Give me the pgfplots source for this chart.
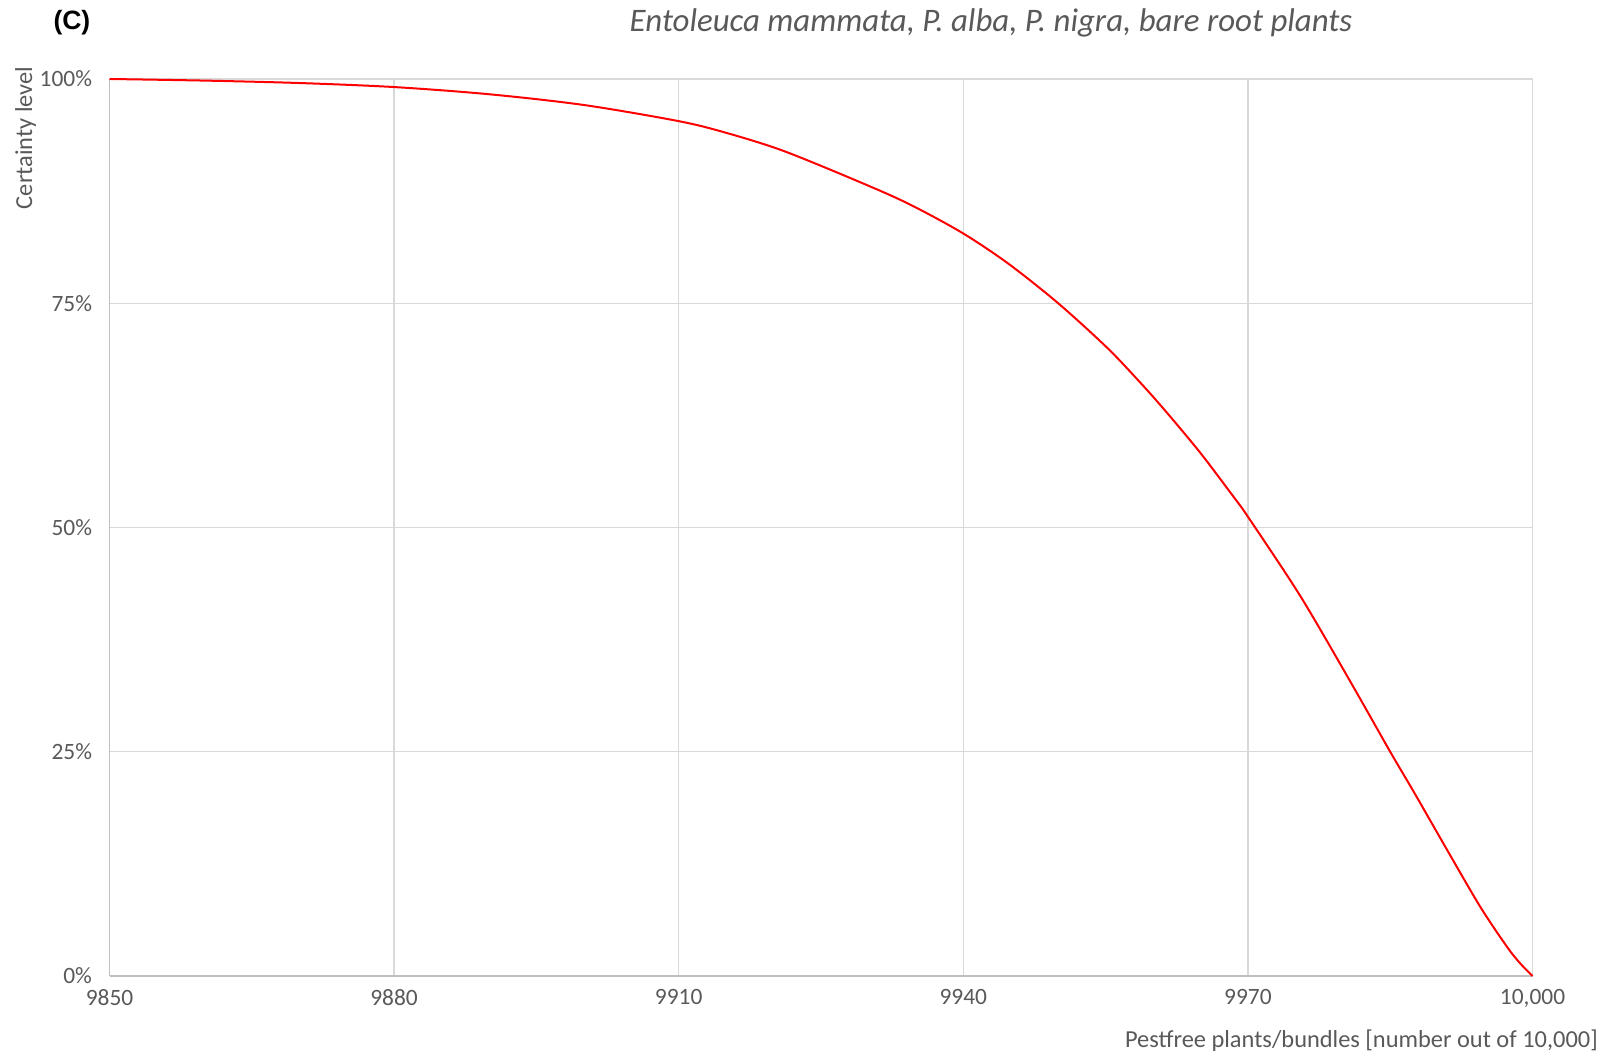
\documentclass[border=0pt]{standalone}
\usepackage{fontspec}
\setmainfont{Carlito}
\newfontfamily\arialfont{Liberation Sans}
\usepackage{pgfplots}
\pgfplotsset{compat=1.18}
\definecolor{txtgray}{HTML}{595959}
\definecolor{gridgray}{HTML}{D9D9D9}
\definecolor{axgray}{HTML}{BFBFBF}

\begin{document}
\begin{tikzpicture}[x=1bp,y=1bp]
\path[use as bounding box] (0,0) rectangle (1610,1059);
\begin{axis}[
    at={(109.5bp,83bp)}, anchor=south west,
    scale only axis, width=1423bp, height=897bp,
    xmin=9850, xmax=10000, ymin=0, ymax=100,
    scaled x ticks=false,
    xtick={9850,9880,9910,9940,9970,10000},
    xticklabels={9850,9880,9910,9940,9970,{10,000}},
    ytick={0,25,50,75,100},
    yticklabels={0\%,25\%,50\%,75\%,100\%},
    ticklabel style={font=\fontsize{23.5}{27}\selectfont, text=txtgray},
    major tick length=0pt,
    xticklabel style={yshift=-10bp},
    yticklabel style={xshift=-14bp},
    axis lines=left,
    axis line style={axgray, line width=1.5bp, -},
    grid=major,
    grid style={gridgray, line width=1.3bp},
    clip=false,
  ]
  \addplot[red, line width=2bp, smooth, tension=0.5] coordinates {
    (9850,100.0) (9860,99.82) (9870,99.55) (9880,99.1) (9890,98.3)
    (9900,97.1) (9910,95.3) (9915,94.0) (9921,92.0) (9929,88.55)
    (9934.2,86.1) (9939.8,82.9) (9944.7,79.45) (9950,75.0) (9955.2,70.0)
    (9958.7,66.1) (9961.3,63.0) (9965,58.3) (9968.5,53.4) (9970,51.2)
    (9975.5,42.4) (9980.7,33.0) (9985,25.0) (9987.5,20.5) (9991,14.05)
    (9994.5,7.7) (9997.3,3.27) (9998.7,1.41) (10000,0)
  };
\end{axis}
\node[font=\arialfont\bfseries\fontsize{26.6}{30}\selectfont] at (71.9,1036.4) {(C)};
\node[font=\itshape\fontsize{33}{37}\selectfont, text=txtgray] at (991,1036) {Entoleuca mammata, P.~alba, P.~nigra, bare root plants};
\node[rotate=90, font=\fontsize{24.5}{28}\selectfont, text=txtgray] at (25.7,921) {Certainty level};
\node[anchor=east, font=\fontsize{24.5}{28}\selectfont, text=txtgray, inner sep=0pt] at (1598,18) {Pestfree plants/bundles [number out of 10,000]};
\end{tikzpicture}
\end{document}
